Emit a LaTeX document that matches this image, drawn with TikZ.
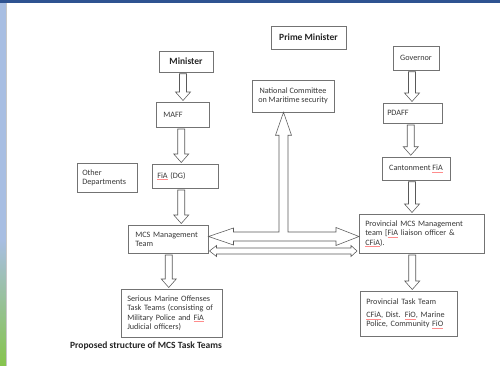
\documentclass[tikz,border=0pt]{standalone}
\usepackage{fontspec}
\setmainfont{Carlito}
\usetikzlibrary{calc}
\definecolor{barblue}{HTML}{2F5391}
\definecolor{stripeblue}{HTML}{A8BEE2}
\definecolor{stripegreen}{HTML}{86C44C}
\definecolor{txt}{HTML}{383838}
\newcommand\spl[1]{\textcolor{red!45}{\underline{\textcolor{txt}{#1}}}}
\newcommand\downarr[3]{%
  \draw[blk] let \p1=(#1.south), \p2=(#2.north) in
    (\x1+#3pt-3.5pt,\y1-1.5pt) -- (\x1+#3pt+3.5pt,\y1-1.5pt) -- (\x1+#3pt+3.5pt,\y2+10pt)
    -- (\x1+#3pt+7.5pt,\y2+10pt) -- (\x1+#3pt,\y2+1.5pt) -- (\x1+#3pt-7.5pt,\y2+10pt)
    -- (\x1+#3pt-3.5pt,\y2+10pt) -- cycle;}
\begin{document}
\begin{tikzpicture}[x=1pt,y=-1pt,
  box/.style={draw=black!55, line width=0.5pt, fill=white, text=txt,
    font=\fontsize{8.2}{9.5}\selectfont, inner ysep=1pt},
  lbox/.style={box, anchor=north west, align=left},
  ttl/.style={font=\fontsize{9.5}{11}\selectfont\bfseries, text=black!85},
  blk/.style={draw=black!65, line width=0.55pt, fill=white, line join=miter}]
\useasboundingbox (0,0) rectangle (500,366);
\fill[white] (0,0) rectangle (500,366);
% decorations of the slide
\fill[stripeblue] (0,0) rectangle (6,240);
\shade[top color=stripeblue, bottom color=stripegreen] (0,240) rectangle (6,366);
\fill[black!22] (6,0) rectangle (7.2,366);
\fill[barblue] (0,0) rectangle (500,3);

% nodes
\node[box, ttl, minimum width=75pt, minimum height=23pt] (pm) at (308.5,37.5) {Prime Minister};
\node[box, ttl, minimum width=54pt, minimum height=21pt] (min) at (186,61.5) {Minister};
\node[box, minimum width=46pt, minimum height=24pt] (gov) at (416,58) {Governor};
\node[lbox, minimum width=53pt, minimum height=25pt, inner xsep=7pt, text width=39pt] (maff) at (156,102) {MAFF};
\node[lbox, minimum width=59pt, minimum height=20pt, inner xsep=4pt, text width=51pt] (pdaff) at (383,103) {PDAFF};
\node[box, align=center, minimum width=82pt, minimum height=32pt] (nc) at (293,96) {National Committee\\on Maritime security};
\node[lbox, minimum width=60pt, minimum height=29pt, inner xsep=5pt, text width=50pt] (oth) at (77,163) {Other\\Departments};
\node[lbox, minimum width=66pt, minimum height=24pt, inner xsep=5pt, text width=56pt] (fia) at (152,164) {\spl{FiA} (DG)};
\node[box, minimum width=68pt, minimum height=23pt] (cant) at (416,168.5) {Cantonment \spl{FiA}};
\node[lbox, minimum width=80pt, minimum height=28pt, inner xsep=7pt, text width=66pt] (mcs) at (128,225) {MCS Management\\Team};
\node[lbox, minimum width=125pt, minimum height=39pt, inner xsep=6pt, text width=113pt] (prov) at (359,214) {Provincial MCS Management\\team [\spl{FiA} liaison officer \&\\\spl{CFiA}).};
\node[lbox, minimum width=101pt, minimum height=48pt, inner xsep=6pt, text width=89pt] (ser) at (121,289) {Serious Marine Offenses\\Task Teams (consisting of\\Military Police and \spl{FiA}\\Judicial officers)};
\node[lbox, minimum width=97pt, minimum height=45pt, inner xsep=6pt, text width=85pt] (ptt) at (360,291) {Provincial Task Team\\[3.5pt]\spl{CFiA}, Dist. \spl{FiO}, Marine\\Police, Community \spl{FiO}};
\node[font=\fontsize{9.5}{11}\selectfont\bfseries, text=black!85, inner sep=0pt] (cap) at (146,346) {Proposed structure of MCS Task Teams};

% vertical block arrows
\downarr{min}{maff}{-3}
\downarr{maff}{fia}{-1.5}
\downarr{fia}{mcs}{-4}
\downarr{mcs}{ser}{0.5}
\downarr{gov}{pdaff}{-4}
\downarr{pdaff}{cant}{-2}
\downarr{cant}{prov}{-4}
\downarr{prov}{ptt}{-9.5}

% T-shaped arrow to the National Committee and between the two teams
\coordinate (hub) at (283.5,236.5);
\coordinate (hub2) at (283.5,251);
\draw[blk] let \p1=(nc.south), \p2=(mcs.east), \p3=(prov.west), \p4=(hub) in
  (\x4,\y1) -- (\x4+8pt,\y1-23pt) -- (\x4+4.5pt,\y1-23pt) -- (\x4+4.5pt,\y4+4.5pt)
  -- (\x3-23pt,\y4+4.5pt) -- (\x3-23pt,\y4+9pt) -- (\x3,\y4) -- (\x3-23pt,\y4-9pt)
  -- (\x3-23pt,\y4-4.5pt) -- (\x2+25pt,\y4-4.5pt) -- (\x2+25pt,\y4-8.5pt) -- (\x2,\y4)
  -- (\x2+25pt,\y4+8.5pt) -- (\x2+25pt,\y4+4.5pt) -- (\x4-4.5pt,\y4+4.5pt)
  -- (\x4-4.5pt,\y1-23pt) -- (\x4-8pt,\y1-23pt) -- cycle;
\draw[blk] let \p2=(mcs.east), \p3=(prov.west), \p4=(hub2) in
  (\x2+1pt,\y4) -- (\x2+8pt,\y4+5.5pt) -- (\x2+8pt,\y4+3pt) -- (\x3-8pt,\y4+3pt)
  -- (\x3-8pt,\y4+5.5pt) -- (\x3-2pt,\y4) -- (\x3-8pt,\y4-5.5pt) -- (\x3-8pt,\y4-3pt)
  -- (\x2+8pt,\y4-3pt) -- (\x2+8pt,\y4-5.5pt) -- cycle;
\end{tikzpicture}
\end{document}
